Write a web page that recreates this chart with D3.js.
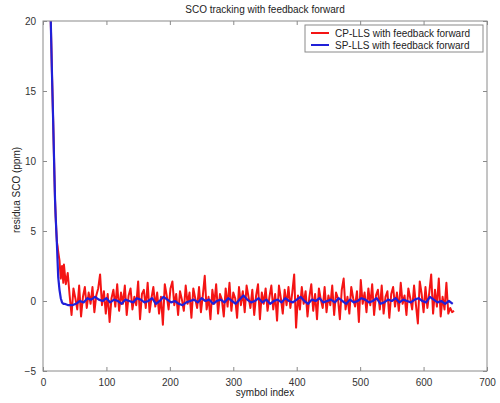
<!DOCTYPE html>
<html>
  <head>
    <meta charset="UTF-8" />
    <script src="https://d3js.org/d3.v7.min.js"></script>
    <style>
      body { margin: 0; background: #fff; }
      text { font-family: "Liberation Sans", Arial, sans-serif; }
    </style>
  </head>
  <body>
    <div id="my_dataviz"></div>

    <script>
      // start of the curves, symbol by symbol
      var transientIdx = [1, 6, 10, 12, 14, 16, 18, 19, 20, 21, 22, 23, 24, 26, 28, 30, 32];
      var transientBlue = [40, 31, 24, 20.5, 16.5, 12.9, 9, 7.2, 6, 5, 4, 2.8, 1.7, 0.8, 0.2, -0.1, -0.2];
      var transientRed = [40, 31, 24, 20.5, 16.5, 12.9, 9, 7.2, 6, 5, 4.2, 3.9, 3.5, 2.9, 1.6, 2.5, 1.3];

      // CP-LLS, every 3rd symbol from 33 to 648
      var redStart = 33, redStep = 3;
      var redValues = [
        2.6, 1.2, 2.0, 0.4, -1.0, 0.9, 0.2, -0.6, 1.1, -1.1,
        0.3, 1.0, -0.5, 0.6, -0.2, 1.0, -0.8, 0.4, 0.9, 1.9,
        -0.3, 0.7, -0.9, 0.5, -1.5, 0.2, 0.8, -0.4, 1.2, -0.7,
        0.6, -0.2, 1.1, -1.0, 0.4, 0.9, -0.6, 0.3, -0.3, 1.4,
        -1.3, 0.5, 0.8, -0.5, 1.3, -0.8, 0.2, 1.0, -0.4, 0.6,
        -0.9, 0.3, -1.7, 1.2, 0.4, -0.6, 0.9, 1.4, -0.3, 0.5,
        -1.0, 0.7, 0.1, -0.7, 1.1, -0.2, 0.6, -1.2, 0.9, 0.2,
        -0.5, 1.0, -0.8, 0.4, 1.8, -0.6, 0.3, -1.3, 0.8, -0.2,
        1.2, -0.9, 0.5, 0.1, -1.1, 0.9, -0.4, 1.3, -0.7, 0.6,
        0.2, -1.2, 1.0, -0.3, 0.7, -0.8, 1.1, 0.3, -0.5, 0.8,
        -1.0, 0.4, 1.2, -1.3, 0.6, -0.2, 0.9, -0.7, 0.3, 1.1,
        -0.6, 0.5, -1.4, 1.1, 0.2, -0.9, 0.8, -0.3, 1.0, -0.5,
        0.6, 1.9, -1.9, 0.4, -0.6, 1.0, -0.2, 0.7, -1.1, 0.3,
        1.2, -0.7, 0.5, -1.3, 0.9, 0.1, -0.5, 1.0, -0.8, 0.4,
        -0.3, 1.1, -1.0, 0.6, 0.2, -1.3, 0.8, 1.6, -0.6, 0.3,
        -0.9, 1.0, 0.2, -0.4, 0.7, -1.5, 1.5, -0.2, 0.6, -0.8,
        0.9, -0.3, 1.2, -1.0, 0.4, 0.8, -0.6, 1.1, -0.9, 0.3,
        0.7, -1.2, 0.5, 1.0, -0.4, 0.6, -0.7, 1.3, -0.2, 0.4,
        -1.0, 0.9, 0.2, -0.6, 1.1, -0.3, -1.6, 1.4, 0.5, -0.8,
        1.0, -0.5, 0.6, 1.9, -0.9, 0.8, -0.4, 1.6, -1.1, 0.3,
        -0.6, 1.3, -0.9, -0.5, -0.8, -0.7
      ];

      // SP-LLS, every 6th symbol from 34 to 646
      var blueStart = 34, blueStep = 6;
      var blueValues = [
        -0.2, -0.3, -0.3, -0.2, 0.0, -0.1, 0.2, 0.1, 0.3, 0.1,
        0.0, 0.2, -0.1, 0.1, 0.0, -0.2, 0.1, 0.0, -0.1, 0.2,
        0.1, -0.1, 0.0, 0.2, -0.2, 0.0, 0.3, 0.1, -0.1, 0.0,
        -0.2, -0.3, -0.1, 0.0, 0.1, -0.1, 0.2, 0.0, 0.1, -0.2,
        0.0, 0.1, -0.1, 0.2, 0.0, -0.2, 0.1, 0.4, 0.1, -0.1,
        0.0, 0.2, -0.1, 0.1, -0.2, 0.0, 0.1, -0.1, 0.2, 0.0,
        -0.1, 0.1, 0.3, 0.0, -0.2, 0.1, 0.0, 0.2, -0.1, 0.0,
        0.1, -0.1, 0.2, 0.0, -0.2, 0.1, -0.1, 0.0, 0.2, 0.1,
        -0.1, 0.0, 0.2, -0.2, -0.1, 0.1, 0.0, 0.2, -0.1, 0.1,
        0.0, -0.1, 0.1, 0.2, 0.0, -0.1, 0.3, 0.1, -0.1, 0.0,
        -0.2, 0.0, -0.2
      ];

      var xTicks = [0, 100, 200, 300, 400, 500, 600, 700];
      var yTicks = [-5, 0, 5, 10, 15, 20];
      var seriesNames = ["CP-LLS with feedback forward", "SP-LLS with feedback forward"];
      var seriesColors = ["#f41414", "#2020d8"];

      var width = 500, height = 403;
      var margin = { top: 21, right: 13, bottom: 32, left: 43 };
      var plotW = width - margin.left - margin.right,
        plotH = height - margin.top - margin.bottom;

      var svg = d3
        .select("#my_dataviz")
        .append("svg")
        .attr("width", width)
        .attr("height", height);

      var xScale = d3.scaleLinear().domain([0, 700]).range([0, plotW]);
      var yScale = d3.scaleLinear().domain([-5, 20]).range([plotH, 0]);

      var g = svg.append("g").attr("transform", "translate(" + margin.left + "," + margin.top + ")");

      // build point lists
      var red = transientIdx.map((d, i) => ({ x: d, y: transientRed[i] }));
      redValues.forEach((v, k) => red.push({ x: redStart + k * redStep, y: v }));
      var blue = transientIdx.map((d, i) => ({ x: d, y: transientBlue[i] }));
      blueValues.forEach((v, k) => blue.push({ x: blueStart + k * blueStep, y: v }));

      svg.append("defs").append("clipPath").attr("id", "clip")
        .append("rect").attr("width", plotW).attr("height", plotH);

      var line = d3.line().x((d) => xScale(d.x)).y((d) => yScale(d.y));

      var lines = g.append("g").attr("clip-path", "url(#clip)");
      lines.append("path").datum(red)
        .attr("fill", "none").attr("stroke", seriesColors[0])
        .attr("stroke-width", 2).attr("stroke-linejoin", "round")
        .attr("d", line);
      lines.append("path").datum(blue)
        .attr("fill", "none").attr("stroke", seriesColors[1])
        .attr("stroke-width", 2.2).attr("stroke-linejoin", "round")
        .attr("d", line);

      // axes, matlab style: ticks inside, box all round
      var axisColor = "#8a8a8a";
      function styleAxis(sel) {
        sel.selectAll(".domain").remove();
        sel.selectAll("line").attr("stroke", axisColor);
        sel.selectAll("text").attr("fill", "#333").style("font-size", "10px");
      }
      g.append("g").attr("transform", "translate(0," + plotH + ")")
        .call(d3.axisBottom(xScale).tickValues(xTicks).tickSize(-4).tickPadding(8))
        .call(styleAxis);
      g.append("g")
        .call(d3.axisTop(xScale).tickValues(xTicks).tickSize(-4).tickFormat(""))
        .call(styleAxis);
      g.append("g")
        .call(d3.axisLeft(yScale).tickValues(yTicks).tickSize(-4).tickPadding(7))
        .call(styleAxis);
      g.append("g").attr("transform", "translate(" + plotW + ",0)")
        .call(d3.axisRight(yScale).tickValues(yTicks).tickSize(-4).tickFormat(""))
        .call(styleAxis);

      g.append("rect").attr("width", plotW).attr("height", plotH)
        .attr("fill", "none").attr("stroke", axisColor).attr("stroke-width", 1);

      svg.append("text")
        .attr("x", margin.left + plotW / 2).attr("y", 13)
        .attr("text-anchor", "middle").style("font-size", "10px").attr("fill", "#222")
        .text("SCO tracking with feedback forward");
      svg.append("text")
        .attr("x", margin.left + plotW / 2).attr("y", 396)
        .attr("text-anchor", "middle").style("font-size", "10px").attr("fill", "#222")
        .text("symbol index");
      svg.append("text")
        .attr("transform", "translate(20," + (margin.top + plotH / 2 - 6) + ") rotate(-90)")
        .attr("text-anchor", "middle").style("font-size", "10px").attr("fill", "#222")
        .text("residua SCO (ppm)");

      // legend
      var legend = svg.append("g").attr("transform", "translate(305,25)");
      legend.append("rect").attr("width", 178).attr("height", 27)
        .attr("fill", "#fff").attr("stroke", axisColor);
      seriesNames.forEach((name, i) => {
        var y = 8 + i * 12;
        legend.append("line").attr("x1", 6).attr("x2", 24).attr("y1", y).attr("y2", y)
          .attr("stroke", seriesColors[i]).attr("stroke-width", 2);
        legend.append("text").attr("x", 30).attr("y", y + 3.5)
          .style("font-size", "10px").attr("fill", "#222").text(name);
      });
    </script>
  </body>
</html>
